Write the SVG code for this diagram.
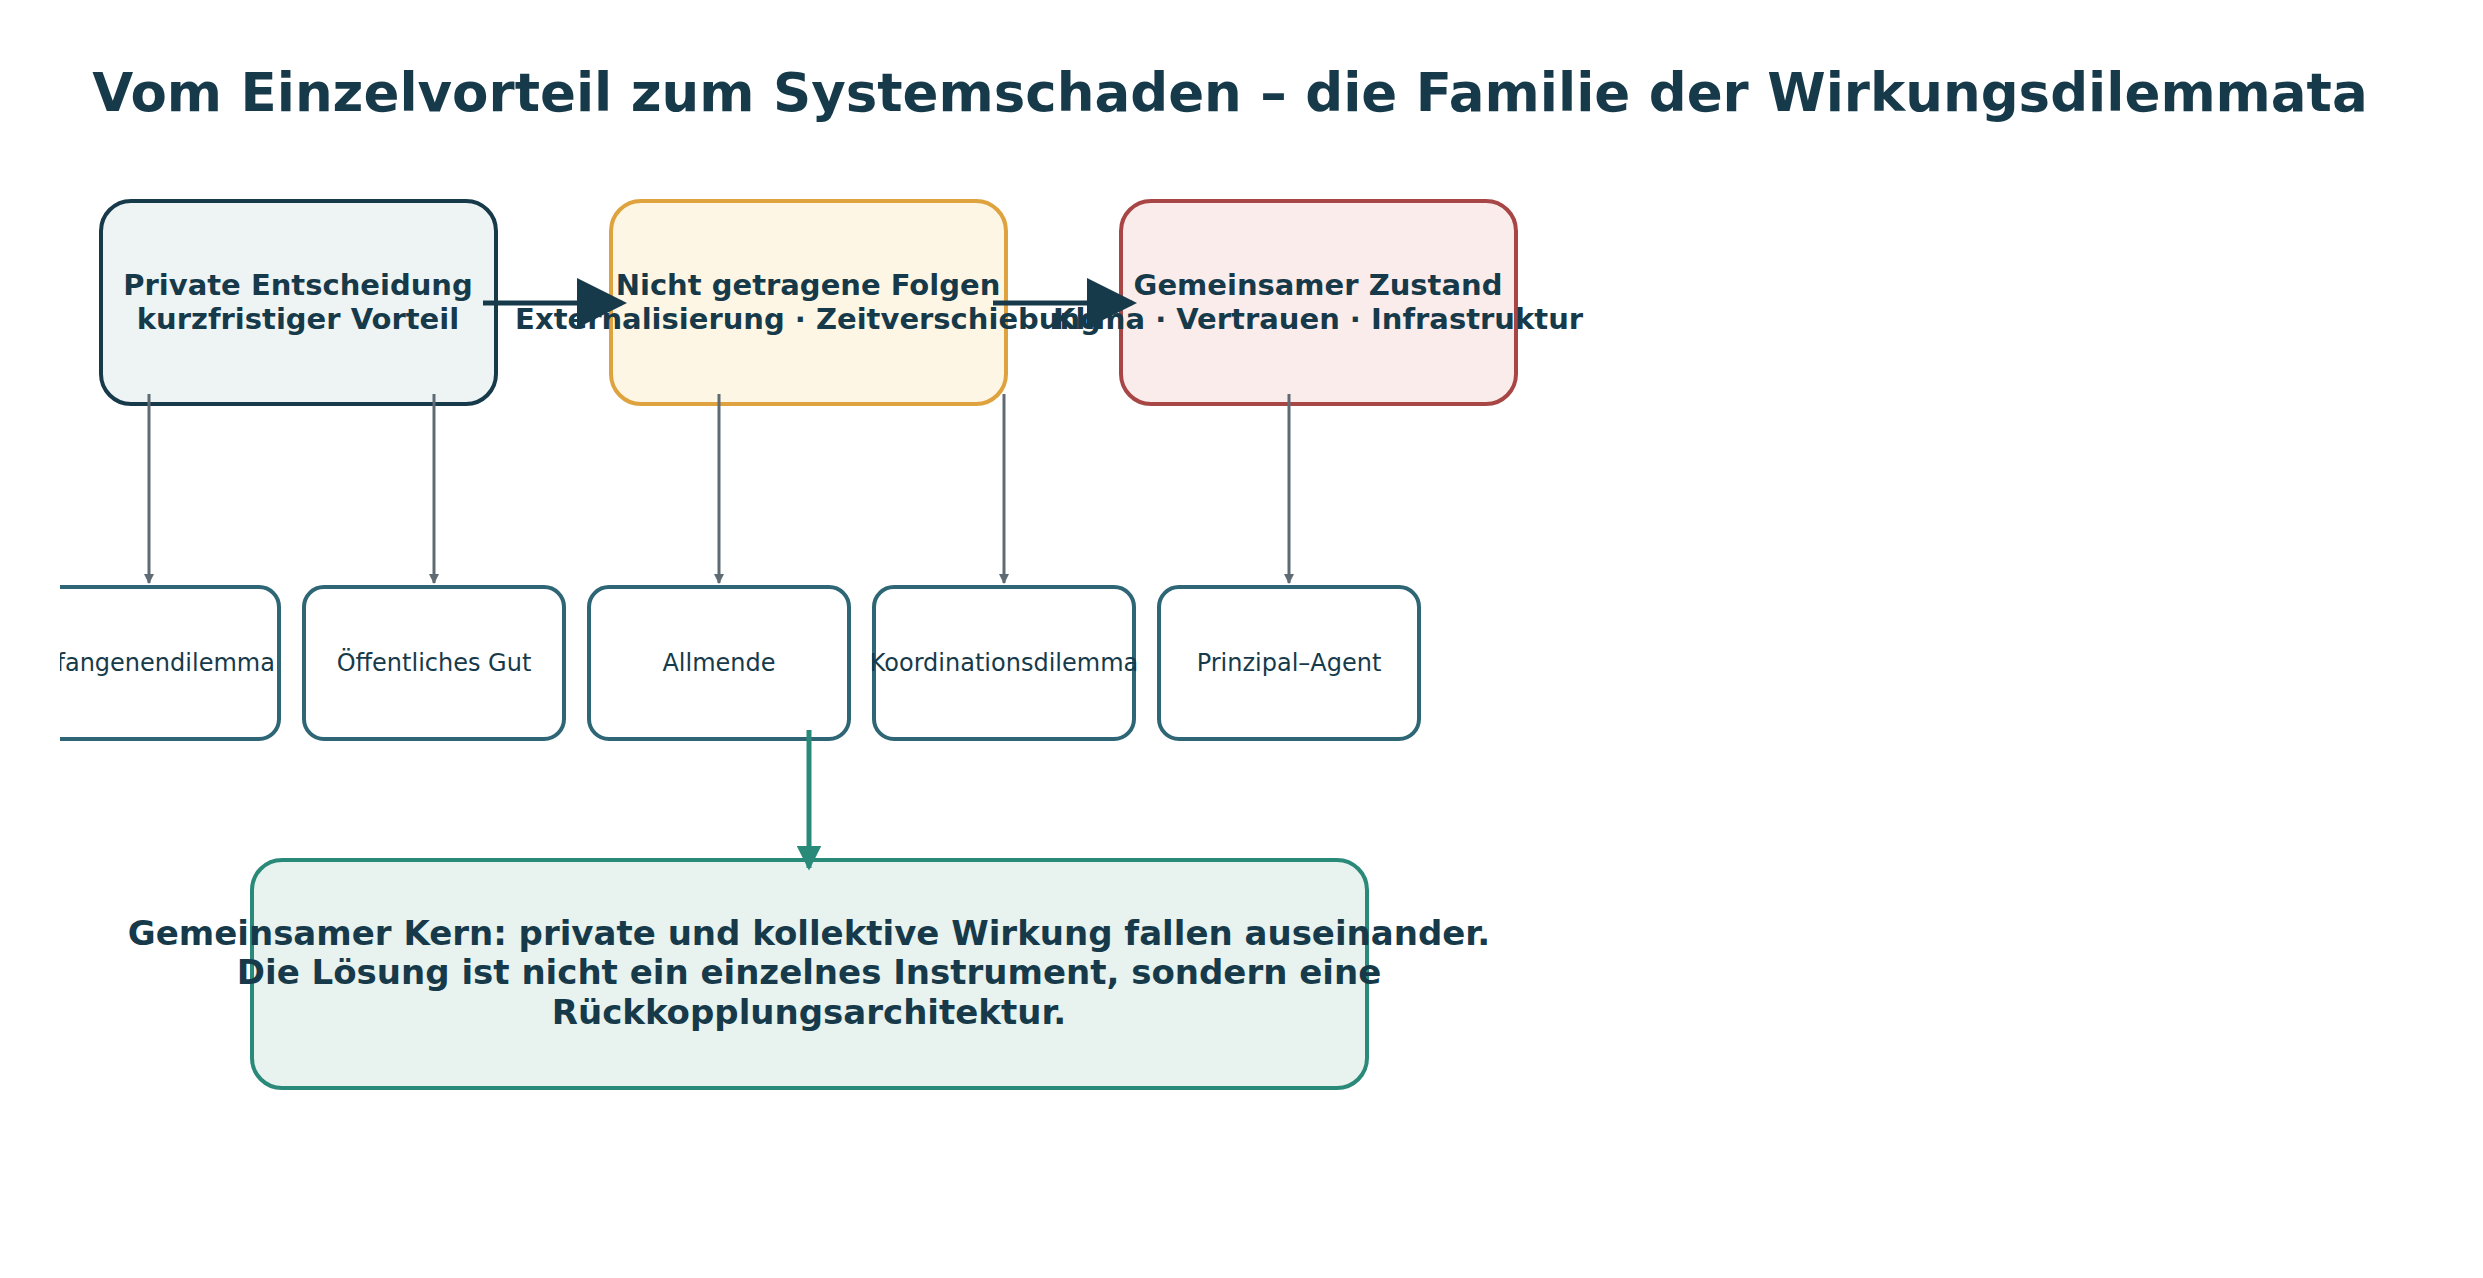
<svg xmlns="http://www.w3.org/2000/svg" width="2483" height="1278" viewBox="0 0 2483 1278">
<style>
text{font-family:"DejaVu Sans","Noto Sans",sans-serif;fill:#173a4a;text-anchor:middle}
.t{font-size:29px;font-weight:bold}
.s{font-size:24px}
.b{font-size:34px;font-weight:bold}
.sm{fill:#fff;stroke:#2e6676;stroke-width:4}
.g{stroke:#5f6b73;stroke-width:3;fill:none}
.h{stroke:#173a4a;stroke-width:5;fill:none}
</style>
<defs>
<marker id="ag" markerWidth="10" markerHeight="10" refX="9" refY="5" orient="auto" markerUnits="userSpaceOnUse" viewBox="0 0 10 10"><path d="M0,0L10,5L0,10z" fill="#5f6b73"/></marker>
<marker id="ad" markerWidth="10" markerHeight="10" refX="9" refY="5" orient="auto" viewBox="0 0 10 10" markerWidth2="0"><path d="M0,0L10,5L0,10z" fill="#173a4a"/></marker>
<marker id="at" markerWidth="5" markerHeight="5" refX="9" refY="5" orient="auto" viewBox="0 0 10 10"><path d="M0,0L10,5L0,10z" fill="#2a8a7a"/></marker>
<clipPath id="cl"><rect x="60" y="0" width="2423" height="1278"/></clipPath>
</defs>
<rect width="2483" height="1278" fill="#fff"/>
<text x="1230" y="111" style="font-size:53px;font-weight:bold">Vom Einzelvorteil zum Systemschaden – die Familie der Wirkungsdilemmata</text>
<g id="n1"><rect x="101" y="201" width="395" height="203" rx="30" fill="#eef4f4" stroke="#173a4a" stroke-width="4"/><text class="t" x="298" y="295">Private Entscheidung</text><text class="t" x="298" y="329">kurzfristiger Vorteil</text></g>
<g id="n2"><rect x="611" y="201" width="395" height="203" rx="30" fill="#fef6e4" stroke="#dea23e" stroke-width="4"/><text class="t" x="808" y="295">Nicht getragene Folgen</text><text class="t" x="808" y="329">Externalisierung · Zeitverschiebung</text></g>
<g id="n3"><rect x="1121" y="201" width="395" height="203" rx="30" fill="#fbecec" stroke="#a84646" stroke-width="4"/><text class="t" x="1318" y="295">Gemeinsamer Zustand</text><text class="t" x="1318" y="329">Klima · Vertrauen · Infrastruktur</text></g>
<g id="s1" clip-path="url(#cl)"><rect class="sm" x="19" y="587" width="260" height="152" rx="20"/><text class="s" x="149" y="671">Gefangenendilemma</text></g>
<g id="s2"><rect class="sm" x="304" y="587" width="260" height="152" rx="20"/><text class="s" x="434" y="671">Öffentliches Gut</text></g>
<g id="s3"><rect class="sm" x="589" y="587" width="260" height="152" rx="20"/><text class="s" x="719" y="671">Allmende</text></g>
<g id="s4"><rect class="sm" x="874" y="587" width="260" height="152" rx="20"/><text class="s" x="1004" y="671">Koordinationsdilemma</text></g>
<g id="s5"><rect class="sm" x="1159" y="587" width="260" height="152" rx="20"/><text class="s" x="1289" y="671">Prinzipal–Agent</text></g>
<g id="core"><rect x="252" y="860" width="1115" height="228" rx="30" fill="#e8f2ee" stroke="#2a8a7a" stroke-width="4"/><text class="b" x="809" y="945">Gemeinsamer Kern: private und kollektive Wirkung fallen auseinander.</text><text class="b" x="809" y="984">Die Lösung ist nicht ein einzelnes Instrument, sondern eine</text><text class="b" x="809" y="1024">Rückkopplungsarchitektur.</text></g>
<g id="connectors">
<line class="h" x1="483" y1="303" x2="622" y2="303" marker-end="url(#ad)"/>
<line class="h" x1="993" y1="303" x2="1132" y2="303" marker-end="url(#ad)"/>
<line class="g" x1="149" y1="394" x2="149" y2="583" marker-end="url(#ag)"/>
<line class="g" x1="434" y1="394" x2="434" y2="583" marker-end="url(#ag)"/>
<line class="g" x1="719" y1="394" x2="719" y2="583" marker-end="url(#ag)"/>
<line class="g" x1="1004" y1="394" x2="1004" y2="583" marker-end="url(#ag)"/>
<line class="g" x1="1289" y1="394" x2="1289" y2="583" marker-end="url(#ag)"/>
<line x1="809" y1="730" x2="809" y2="868" stroke="#2a8a7a" stroke-width="5" marker-end="url(#at)"/>
</g>
</svg>
